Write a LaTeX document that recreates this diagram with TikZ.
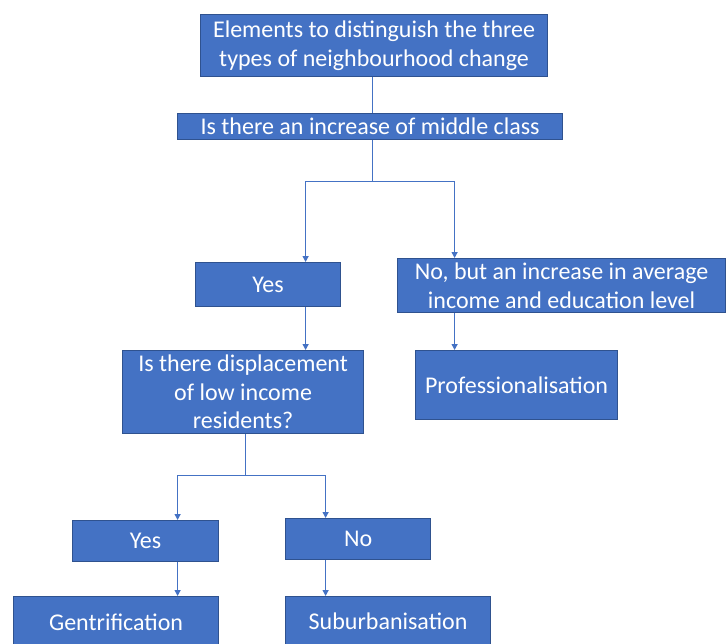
\documentclass[tikz,border=0pt]{standalone}
\usepackage{fontspec}
\setmainfont{Carlito}
\usetikzlibrary{arrows.meta,positioning}
\definecolor{boxblue}{HTML}{4472C4}
\definecolor{boxedge}{HTML}{2F528F}

\begin{document}
\begin{tikzpicture}[x=1pt,y=-1pt, box/.style={draw=boxedge,fill=boxblue,text=white,line width=1.2pt,anchor=north west,align=center,inner sep=0pt,font=\fontsize{24}{28.5}\selectfont}, arrow/.style={-{Triangle[length=6pt,width=6pt]},draw=boxblue,line width=1.3pt}, link/.style={draw=boxblue,line width=1.3pt}]
\useasboundingbox (0,0) rectangle (726,643);
\clip (0,0) rectangle (726,643);
\node[box,minimum width=347pt,minimum height=62pt] (title) at (200,14) {Elements to distinguish the three\\types of neighbourhood change};
\node[box,minimum width=385pt,minimum height=26pt] (middle) at (177,113) {Is there an increase of middle class};
\node[box,minimum width=145pt,minimum height=44pt] (yesmid) at (195,262) {Yes};
\node[box,minimum width=328pt,minimum height=54pt] (nomid) at (397,258) {No, but an increase in average\\income and education level};
\node[box,minimum width=241pt,minimum height=83pt] (displace) at (122,350) {Is there displacement\\of low income\\residents?};
\node[box,minimum width=202pt,minimum height=69pt] (prof) at (415,350) {Professionalisation};
\node[box,minimum width=146pt,minimum height=41pt] (yesdis) at (72,520) {Yes};
\node[box,minimum width=145pt,minimum height=41pt] (nodis) at (285,518) {No};
\node[box,minimum width=205pt,minimum height=52pt] (gentri) at (13,596) {Gentrification};
\node[box,minimum width=205pt,minimum height=50pt] (suburb) at (285,596) {Suburbanisation};
\draw[link] ([xshift=-1.5pt]title.south) -- ([xshift=-1.5pt]title.south |- middle.north);
\draw[arrow] ([xshift=2.5pt]middle.south) -- ++(0,41) -| ([xshift=37.5pt]yesmid.north);
\draw[arrow] ([xshift=2.5pt]middle.south) -- ++(0,41) -| ([xshift=-107pt]nomid.north);
\draw[arrow] ([xshift=37.5pt]yesmid.south) -- ([xshift=37.5pt]yesmid.south |- displace.north);
\draw[arrow] ([xshift=-107pt]nomid.south) -- ([xshift=-107pt]nomid.south |- prof.north);
\draw[arrow] ([xshift=2.5pt]displace.south) -- ++(0,41) -| ([xshift=32pt]yesdis.north);
\draw[arrow] ([xshift=2.5pt]displace.south) -- ++(0,41) -| ([xshift=-32.5pt]nodis.north);
\draw[arrow] ([xshift=32pt]yesdis.south) -- ([xshift=32pt]yesdis.south |- gentri.north);
\draw[arrow] ([xshift=-32.5pt]nodis.south) -- ([xshift=-32.5pt]nodis.south |- suburb.north);
\end{tikzpicture}
\end{document}
